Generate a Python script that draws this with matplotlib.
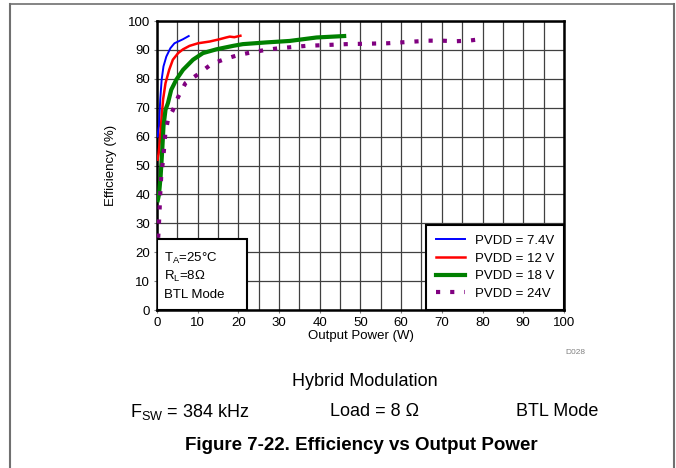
import numpy as np
import matplotlib.pyplot as plt
from matplotlib.lines import Line2D
from matplotlib.patches import Rectangle

plt.rcParams['font.family'] = ['Liberation Sans', 'DejaVu Sans']
plt.rcParams['mathtext.fontset'] = 'custom'
plt.rcParams['mathtext.rm'] = 'Liberation Sans'

# PVDD = 7.4 V
p_74 = [0.15, 0.3, 0.5, 0.8, 1.15, 1.6, 2.3, 3.3, 4.3, 6.4, 7.8]
e_74 = [60, 62, 63.6, 72.8, 79.7, 84.3, 87.7, 90.6, 92.3, 93.7, 94.8]

# PVDD = 12 V
p_12 = [0.15, 0.4, 0.66, 1.1, 1.5, 2.1, 3.0, 3.9, 5.2, 6.4, 8.0, 10.1,
        12.95, 15.4, 17.0, 17.9, 19.0, 20.5]
e_12 = [52, 54, 57.8, 65.9, 72.8, 78.5, 83.1, 86.6, 88.9, 90.2, 91.4, 92.3,
        92.9, 93.7, 94.3, 94.6, 94.4, 94.9]

# PVDD = 18 V
p_18 = [0.2, 0.5, 0.9, 1.3, 1.6, 2.1, 2.7, 3.5, 4.75, 6.4, 8.85, 11.3,
        14.6, 18.7, 21.1, 26.9, 32.6, 39.2, 46.0]
e_18 = [38, 40, 46.3, 55.5, 63.6, 69.3, 71.6, 76.2, 79.7, 83.1, 86.6, 88.9,
        90.2, 91.4, 92.0, 92.6, 93.1, 94.3, 94.8]

# PVDD = 24 V
p_24 = [0.3, 0.6, 0.8, 1.07, 1.5, 2.05, 2.7, 3.9, 5.2, 7.0, 10.1, 13.4,
        16.6, 19.9, 23.4, 26.7, 30.1, 33.4, 36.7, 40.0, 43.3, 46.6, 50.0,
        53.3, 56.7, 60.0, 63.3, 66.6, 70.0, 73.3, 76.6, 80.0]
e_24 = [25, 33, 40, 47.1, 51.8, 61, 65.9, 69.1, 73.7, 78.5, 81.6, 85.1,
        86.8, 88.2, 89.2, 90.0, 90.6, 91.0, 91.4, 91.6, 91.8, 92.0, 92.1,
        92.2, 92.3, 92.6, 92.9, 93.2, 93.2, 93.0, 93.2, 93.8]

fig = plt.figure(figsize=(6.76, 4.68), dpi=100)
ax = fig.add_axes([0.2322, 0.3376, 0.602, 0.6175])

ax.plot(p_74, e_74, color='#0000ff', lw=1.4, label='PVDD = 7.4V', zorder=5)
ax.plot(p_12, e_12, color='#ff0000', lw=1.8, label='PVDD = 12 V', zorder=5)
ax.plot(p_18, e_18, color='#008000', lw=3.0, label='PVDD = 18 V', zorder=5)
ax.plot(p_24, e_24, color='#800080', lw=3.0, dashes=(1, 2.4),
        dash_capstyle='butt', label='PVDD = 24V', zorder=5)

ax.set_xlim(0, 100)
ax.set_ylim(0, 100)
ax.set_xticks(np.arange(0, 101, 10))
ax.set_yticks(np.arange(0, 101, 10))
ax.set_xticks(np.arange(0, 101, 5), minor=True)
ax.tick_params(which='both', length=2, width=0.8, color='#808080',
               labelsize=9.5, pad=3)
ax.tick_params(which='minor', length=0)
ax.grid(True, which='both', axis='x', color='#404040', lw=0.9)
ax.grid(True, which='major', axis='y', color='#404040', lw=0.9)
for s in ax.spines.values():
    s.set_linewidth(1.8)
    s.set_color('black')

ax.set_xlabel('Output Power (W)', fontsize=9.5, labelpad=1)
ax.set_ylabel('Efficiency (%)', fontsize=9.5, labelpad=8)

leg = ax.legend(loc='lower right', fontsize=9.5, fancybox=False,
                framealpha=1, edgecolor='black', borderaxespad=0,
                handlelength=2.2, handletextpad=0.7, labelspacing=0.42,
                borderpad=0.75)
leg.get_frame().set_linewidth(1.5)
leg.set_zorder(10)

box = Rectangle((0, 0), 0.221, 0.245, transform=ax.transAxes,
                facecolor='white', edgecolor='black', lw=1.5, zorder=8)
ax.add_patch(box)
ax.text(0.018, 0.178, r'T$_\mathregular{A}$=25°C', transform=ax.transAxes,
        fontsize=9.5, va='center', zorder=9)
ax.text(0.018, 0.117, r'R$_\mathregular{L}$=8Ω', transform=ax.transAxes,
        fontsize=9.5, va='center', zorder=9)
ax.text(0.018, 0.053, 'BTL Mode', transform=ax.transAxes,
        fontsize=9.5, va='center', zorder=9)

fig.text(575 / 676, 1 - 352 / 468, 'D028', fontsize=6, color='#808080',
         ha='center', va='center')

fig.text(365 / 676, 1 - 381 / 468, 'Hybrid Modulation', fontsize=13,
         ha='center', va='center')
fig.text(190 / 676, 1 - 412 / 468, r'F$_\mathregular{SW}$ = 384 kHz',
         fontsize=13, ha='center', va='center')
fig.text(375 / 676, 1 - 412 / 468, 'Load = 8 Ω', fontsize=13,
         ha='center', va='center')
fig.text(557 / 676, 1 - 412 / 468, 'BTL Mode', fontsize=13,
         ha='center', va='center')
fig.text(361 / 676, 1 - 446 / 468, 'Figure 7-22. Efficiency vs Output Power',
         fontsize=13.5, fontweight='bold', ha='center', va='center')

# page frame
fx0, fx1, fy = 10 / 676, 674 / 676, 1 - 4 / 468
fig.add_artist(Line2D([fx0, fx1], [fy, fy], color='#707070', lw=1.2))
fig.add_artist(Line2D([fx0, fx0], [0, fy], color='#707070', lw=1.5))
fig.add_artist(Line2D([fx1, fx1], [0, fy], color='#707070', lw=1.5))

fig.savefig('out.png', dpi=100)
